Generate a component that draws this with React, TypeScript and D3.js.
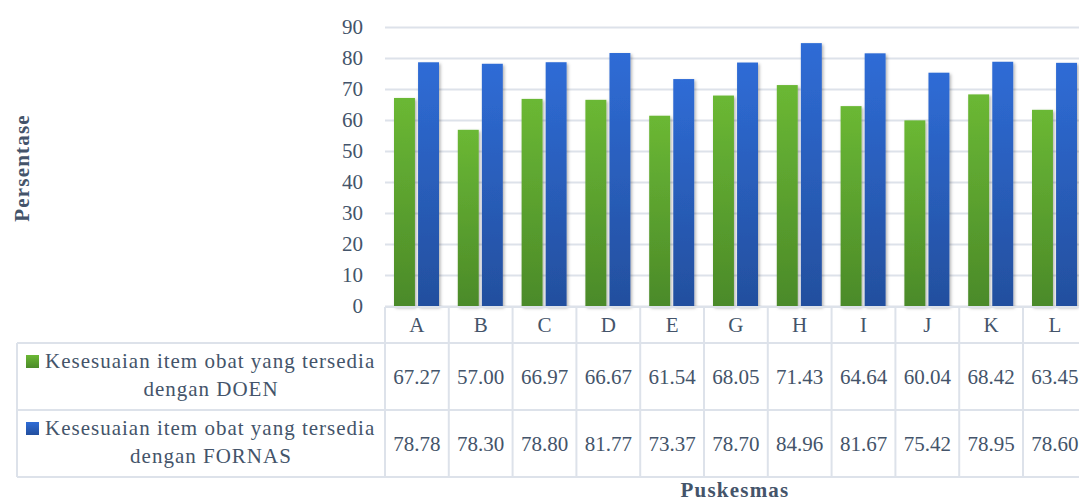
import React from "react";
import * as d3 from "d3";

const categories = ["A", "B", "C", "D", "E", "G", "H", "I", "J", "K", "L"];
const doenValues = [67.27, 57.0, 66.97, 66.67, 61.54, 68.05, 71.43, 64.64, 60.04, 68.42, 63.45];
const fornasValues = [78.78, 78.3, 78.8, 81.77, 73.37, 78.7, 84.96, 81.67, 75.42, 78.95, 78.6];
const yTicks = [0, 10, 20, 30, 40, 50, 60, 70, 80, 90];
const seriesNames = [
  ["Kesesuaian item obat yang tersedia", "dengan DOEN"],
  ["Kesesuaian item obat yang tersedia", "dengan FORNAS"],
];

const W = 1079;
const H = 504;
const FONT = "'Palatino Linotype', 'Book Antiqua', Palatino, 'Liberation Serif', serif";
const TEXT = "#44546a";
const GRID = "#dde2ea";
const FS = 21;

export default function App() {
  const plotLeft = 385;
  const colW = 63.8;
  const x = d3
    .scaleBand<string>()
    .domain(categories)
    .range([plotLeft, plotLeft + colW * categories.length])
    .paddingInner(0)
    .paddingOuter(0);
  const y = d3.scaleLinear().domain([0, 90]).range([306.5, 27.5]);
  const inner = d3.scaleBand<number>().domain([0, 1]).range([9, 54]).paddingInner(0.13);

  const rowHeader = [307, 343];
  const row1 = [343, 410];
  const row2 = [410, 477];
  const tableRight = plotLeft + colW * categories.length;

  const series = [
    { values: doenValues, grad: "gGreen" },
    { values: fornasValues, grad: "gBlue" },
  ];

  return (
    <svg width={W} height={H} style={{ position: "absolute", left: 0, top: 0, display: "block" }}>
      <defs>
        <linearGradient id="gGreen" x1="0" y1="0" x2="0" y2="1">
          <stop offset="0" stopColor="#6bb834" />
          <stop offset="1" stopColor="#4b8a29" />
        </linearGradient>
        <linearGradient id="gBlue" x1="0" y1="0" x2="0" y2="1">
          <stop offset="0" stopColor="#2f6cd6" />
          <stop offset="1" stopColor="#234f9e" />
        </linearGradient>
        <filter id="shadow" x="-30%" y="-10%" width="160%" height="120%">
          <feDropShadow dx="1.5" dy="1.5" stdDeviation="1.8" floodColor="#000" floodOpacity="0.3" />
        </filter>
      </defs>
      <rect width={W} height={H} fill="#fff" />

      {yTicks.map((t) => (
        <line key={t} x1={plotLeft} x2={W} y1={y(t)} y2={y(t)} stroke={GRID} strokeWidth={2} />
      ))}
      {yTicks.map((t) => (
        <text key={"t" + t} x={363} y={y(t)} dy="0.33em" textAnchor="end" fontFamily={FONT} fontSize={FS} fill={TEXT}>
          {t}
        </text>
      ))}

      {series.map((s, si) =>
        categories.map((c, i) => (
          <rect
            key={si + c}
            x={(x(c) as number) + (inner(si) as number)}
            y={y(s.values[i])}
            width={inner.bandwidth()}
            height={y(0) - y(s.values[i])}
            fill={`url(#${s.grad})`}
            filter="url(#shadow)"
          />
        ))
      )}

      <g stroke={GRID} strokeWidth={2} fill="none">
        {categories.map((c) => (
          <line key={"hv" + c} x1={x(c)} x2={x(c)} y1={rowHeader[0]} y2={row2[1]} />
        ))}
        <line x1={17} x2={17} y1={row1[0]} y2={row2[1]} />
        <line x1={17} x2={tableRight} y1={row1[0]} y2={row1[0]} />
        <line x1={17} x2={tableRight} y1={row2[0]} y2={row2[0]} />
        <line x1={17} x2={tableRight} y1={row2[1]} y2={row2[1]} />
        <line x1={plotLeft} x2={tableRight} y1={rowHeader[0]} y2={rowHeader[0]} />
      </g>

      {categories.map((c) => (
        <text
          key={"c" + c}
          x={(x(c) as number) + x.bandwidth() / 2}
          y={rowHeader[0] + 25}
          textAnchor="middle"
          fontFamily={FONT}
          fontSize={FS}
          fill={TEXT}
        >
          {c}
        </text>
      ))}

      {[row1, row2].map((r, ri) =>
        categories.map((c, i) => (
          <text
            key={"v" + ri + c}
            x={(x(c) as number) + x.bandwidth() / 2}
            y={(r[0] + r[1]) / 2 + 7.5}
            textAnchor="middle"
            fontFamily={FONT}
            fontSize={FS}
            fill={TEXT}
          >
            {(ri === 0 ? doenValues : fornasValues)[i].toFixed(2)}
          </text>
        ))
      )}

      {[row1, row2].map((r, ri) => (
        <g key={"lg" + ri}>
          <rect x={26} y={r[0] + 12} width={13} height={13} fill={`url(#${ri === 0 ? "gGreen" : "gBlue"})`} />
          <text x={45} y={r[0] + 25} fontFamily={FONT} fontSize={FS} letterSpacing={1} fill={TEXT}>
            {seriesNames[ri][0]}
          </text>
          <text x={211} y={r[0] + 53} textAnchor="middle" fontFamily={FONT} fontSize={FS} letterSpacing={1} fill={TEXT}>
            {seriesNames[ri][1]}
          </text>
        </g>
      ))}

      <text
        transform={`translate(29,168) rotate(-90)`}
        textAnchor="middle"
        fontFamily={FONT}
        fontSize={21}
        fontWeight="bold"
        letterSpacing={1.2}
        fill={TEXT}
      >
        Persentase
      </text>
      <text x={735} y={497} textAnchor="middle" fontFamily={FONT} fontSize={21} fontWeight="bold" letterSpacing={1.2} fill={TEXT}>
        Puskesmas
      </text>
    </svg>
  );
}
